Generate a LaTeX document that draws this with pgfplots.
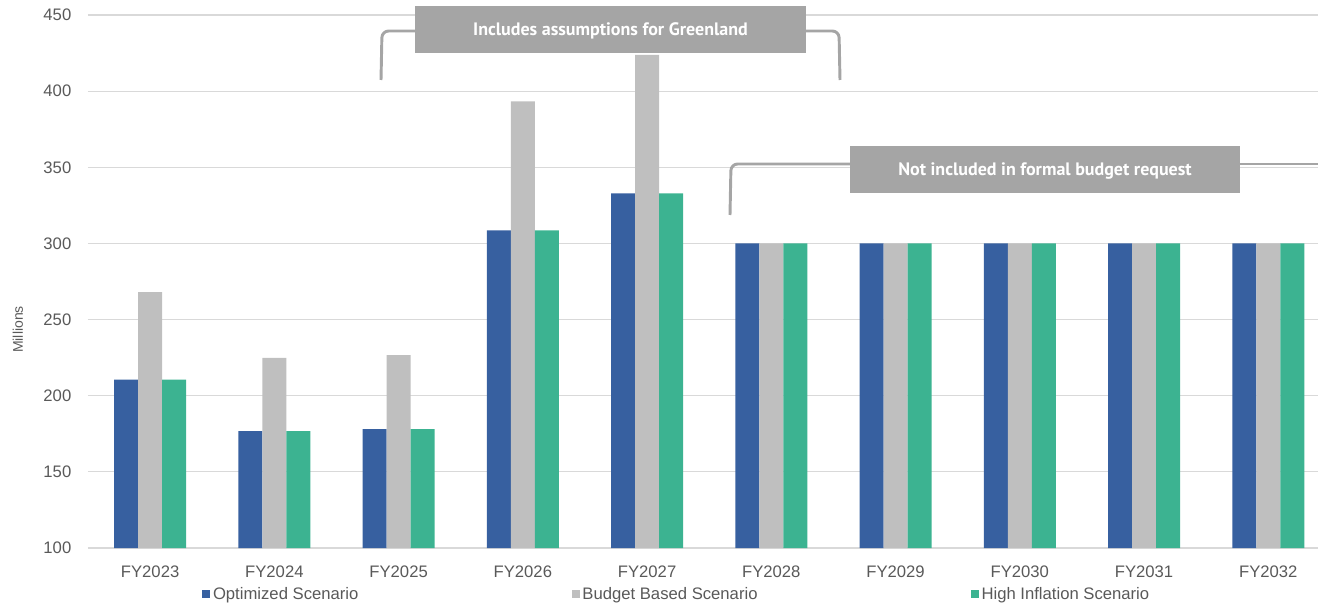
\documentclass[border=0pt]{standalone}
\usepackage{fontspec}
\setmainfont{Liberation Sans}
\newfontfamily\anfont{PT Sans}
\usepackage{pgfplots}
\pgfplotsset{compat=1.18}
\definecolor{cblue}{HTML}{3760A0}
\definecolor{cgray}{HTML}{BFBFBF}
\definecolor{cgreen}{HTML}{3CB391}
\definecolor{boxgray}{HTML}{A5A5A5}
\definecolor{gridc}{HTML}{D9D9D9}
\definecolor{txt}{HTML}{595959}
\begin{document}
\begin{tikzpicture}
\path[use as bounding box] (0,0) rectangle (988.5pt,-454.5pt);
\begin{axis}[
  at={(66pt,-411pt)}, anchor=south west,
  scale only axis, width=922.5pt, height=399.75pt,
  xmin=-0.5, xmax=9.4, ymin=100, ymax=450,
  ytick={100,150,...,450},
  xtick={0,...,9},
  xticklabels={FY2023,FY2024,FY2025,FY2026,FY2027,FY2028,FY2029,FY2030,FY2031,FY2032},
  ymajorgrids, grid style={gridc, line width=0.9pt},
  axis line style={draw=none},
  major tick length=0pt,
  /pgf/number format/assume math mode=true,
  ticklabel style={font=\fontsize{12.5}{14}\selectfont, text=txt},
  yticklabel style={xshift=-9pt},
  xticklabel style={yshift=-9.5pt},
  ylabel={Millions},
  ylabel style={at={(axis description cs:-0.057,0.41)}, anchor=center, font=\fontsize{10.5}{12}\selectfont, text=txt},
  ybar=0pt, bar width=18pt,
  legend columns=3,
  legend style={at={(axis description cs:0.0895,-0.0863)}, anchor=west, draw=none, fill=none,
    font=\fontsize{12.5}{14}\selectfont, text=txt,
    /tikz/every even column/.append style={column sep=158pt}},
  legend image code/.code={\fill[#1] (0pt,-3pt) rectangle (6pt,3pt);},
]
\addplot[fill=cblue, draw=none] coordinates {(0,210.5) (1,176.8) (2,178) (3,308.6) (4,332.8) (5,300) (6,300) (7,300) (8,300) (9,300)};
\addplot[fill=cgray, draw=none] coordinates {(0,268) (1,224.8) (2,226.7) (3,393.2) (4,423.8) (5,300) (6,300) (7,300) (8,300) (9,300)};
\addplot[fill=cgreen, draw=none] coordinates {(0,210.5) (1,176.8) (2,178) (3,308.6) (4,332.8) (5,300) (6,300) (7,300) (8,300) (9,300)};
\legend{Optimized Scenario, Budget Based Scenario, High Inflation Scenario}
\end{axis}
\begin{scope}[x=0.75pt,y=-0.75pt]
\draw[boxgray, line width=2.2pt, rounded corners=5pt] (381,80) -- (382,31) -- (415,31);
\draw[boxgray, line width=2.2pt, rounded corners=5pt] (805,31) -- (839,31) -- (840,80);
\fill[boxgray] (415,6) rectangle (806,53);
\node[white, font=\anfont\bfseries\fontsize{13.5}{15}\selectfont] at (610.5,31) {Includes assumptions for Greenland};
\draw[boxgray, line width=2.2pt, rounded corners=5pt] (730,215) -- (731,164) -- (850,164);
\draw[boxgray, line width=2.2pt] (1240,164) -- (1318,164);
\fill[boxgray] (850,146) rectangle (1240,193);
\node[white, font=\anfont\bfseries\fontsize{13.5}{15}\selectfont] at (1045,171) {Not included in formal budget request};
\end{scope}
\end{tikzpicture}
\end{document}
